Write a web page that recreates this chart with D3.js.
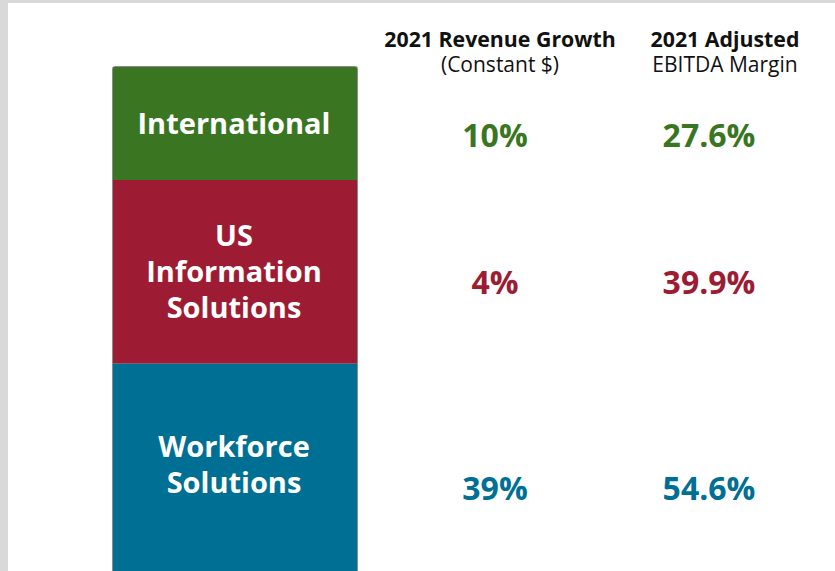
<!DOCTYPE html>
<html>
<head>
<meta charset="utf-8">
<script src="https://cdn.jsdelivr.net/npm/d3@7"></script>
<style>
  body { margin: 0; background: #d9d9d9; }
  svg { display: block; }
  text { font-family: "Open Sans", "Noto Sans", sans-serif; }
</style>
</head>
<body>
<svg id="chart" width="835" height="571"></svg>
<script>
// segments, top to bottom (block size = relative revenue)
const segments = ["International", "US Information Solutions", "Workforce Solutions"];
const segmentLines = [["International"], ["US", "Information", "Solutions"], ["Workforce", "Solutions"]];
const segmentSize = [1.07, 1.74, 2.3];
const colors = ["#3a7622", "#9d1c33", "#006f94"];

const metrics = ["growth", "margin"];
const metricTitle = ["2021 Revenue Growth", "2021 Adjusted"];
const metricSub = ["(Constant $)", "EBITDA Margin"];
const growth = ["10%", "4%", "39%"];
const margin = ["27.6%", "39.9%", "54.6%"];

let svg = d3.select("#chart"),
    width = +svg.attr("width"),
    height = +svg.attr("height");

// white panel, grey frame on left and top
svg.append("rect")
    .attr("x", 8).attr("y", 3)
    .attr("width", width - 8).attr("height", height - 3)
    .attr("fill", "#fff");

let boxLeft = 113, boxRight = 357, boxTop = 67;

let y = d3.scaleLinear()
    .domain([0, 1])
    .range([0, 105.6]);

// stack the segments
let tops = [];
let acc = 0;
segmentSize.forEach(v => { tops.push(acc); acc += v; });

let g = svg.append("g");

g.selectAll("rect.seg")
    .data(segments)
    .join("rect")
    .attr("class", "seg")
    .attr("x", boxLeft)
    .attr("y", (d, i) => boxTop + y(tops[i]))
    .attr("width", boxRight - boxLeft)
    .attr("height", (d, i) => y(segmentSize[i]))
    .attr("fill", (d, i) => colors[i]);

g.append("rect")
    .attr("x", boxLeft - 0.5)
    .attr("y", boxTop - 0.5)
    .attr("width", boxRight - boxLeft + 1)
    .attr("height", y(acc) + 1)
    .attr("rx", 2)
    .attr("fill", "none")
    .attr("stroke", "#8c8c8c")
    .attr("stroke-width", 1);

// centre of the visible part of each segment
let centerOf = i => {
    let t = boxTop + y(tops[i]);
    let b = Math.min(boxTop + y(tops[i] + segmentSize[i]), height - 5);
    return (t + b) / 2;
};

let labelSize = 29, lineH = 36;
segmentLines.forEach((lines, i) => {
    let c = centerOf(i);
    let first = c - (lines.length - 1) * lineH / 2 + 0.357 * labelSize;
    g.append("text")
        .attr("text-anchor", "middle")
        .attr("fill", "#fff")
        .attr("font-weight", 700)
        .attr("font-size", labelSize)
        .selectAll("tspan")
        .data(lines)
        .join("tspan")
        .attr("x", (boxLeft + boxRight) / 2 - 1)
        .attr("y", (d, k) => first + k * lineH)
        .text(d => d);
});

// metric columns
let x = d3.scalePoint()
    .domain(metrics)
    .range([495, 709]);
let headerShift = [5, 16];

metrics.forEach((m, j) => {
    let hx = x(m) + headerShift[j];
    svg.append("text")
        .attr("x", hx).attr("y", 47)
        .attr("text-anchor", "middle")
        .attr("font-size", 21.3)
        .attr("font-weight", 700)
        .attr("fill", "#111")
        .text(metricTitle[j]);
    svg.append("text")
        .attr("x", hx).attr("y", 72)
        .attr("text-anchor", "middle")
        .attr("font-size", 21)
        .attr("fill", "#111")
        .text(metricSub[j]);
});

let numberY = [147, 294, 500];
let values = { growth: growth, margin: margin };
metrics.forEach(m => {
    svg.selectAll(null)
        .data(values[m])
        .join("text")
        .attr("x", x(m))
        .attr("y", (d, i) => numberY[i])
        .attr("text-anchor", "middle")
        .attr("font-size", 32)
        .attr("font-weight", 700)
        .attr("fill", (d, i) => colors[i])
        .text(d => d);
});
</script>
</body>
</html>
